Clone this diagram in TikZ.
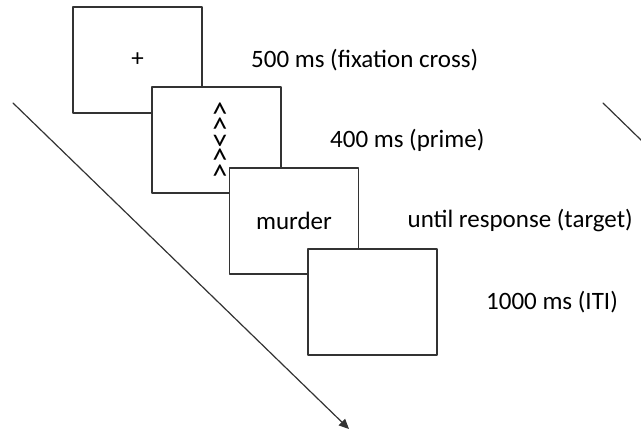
\documentclass[tikz,border=0pt]{standalone}
\usepackage{fontspec}
\setmainfont{Carlito}
\usetikzlibrary{positioning,arrows.meta}

\begin{document}
\begin{tikzpicture}[x=0.5pt, y=-0.5pt, line cap=round, line join=round]
  \clip (0,0) rectangle (641,432);
  \tikzset{
    screen/.style={draw=black!80, line width=0.75pt, fill=white, rectangle,
      minimum width=64.5pt, minimum height=53pt, inner sep=0pt,
      font=\fontsize{12.5}{15}\selectfont},
    lab/.style={inner sep=0pt, anchor=west, font=\fontsize{12.5}{15}\selectfont},
    timeline/.style={draw=black!80, line width=0.6pt}
  }

  % --- time axis (coordinates in pixels)
  \coordinate (t0) at (13,103);
  \coordinate (t1) at (349,429);
  \coordinate (u0) at (603,103);
  \coordinate (u1) at (680,178);
  \draw[timeline, -{Triangle[length=5pt, width=4.5pt]}] (t0) -- (t1);
  \draw[timeline] (u0) -- (u1);

  % --- the four screens, each one lying over the previous one
  \node[screen] (fix)   at (137.5,60)  {+};
  \node[screen] (prime) at (216.5,140) {};
  \node[rotate=-90, inner sep=0pt, font=\fontsize{15.5}{18}\selectfont]
    (arrows) at ([xshift=1pt]prime.center) {<{}<{}>{}<{}<};
  \node[screen] (target) at (294,221)  {murder};
  \node[screen] (iti)    at (372.5,302) {};

  % --- durations
  \node[lab, right=24pt of fix]    (dfix)    {500 ms (fixation cross)};
  \node[lab, right=24pt of prime]  (dprime)  {400 ms (prime)};
  \node[lab, right=24pt of target] (dtarget) {until response (target)};
  \node[lab, right=24pt of iti]    (diti)    {1000 ms (ITI)};
\end{tikzpicture}
\end{document}
